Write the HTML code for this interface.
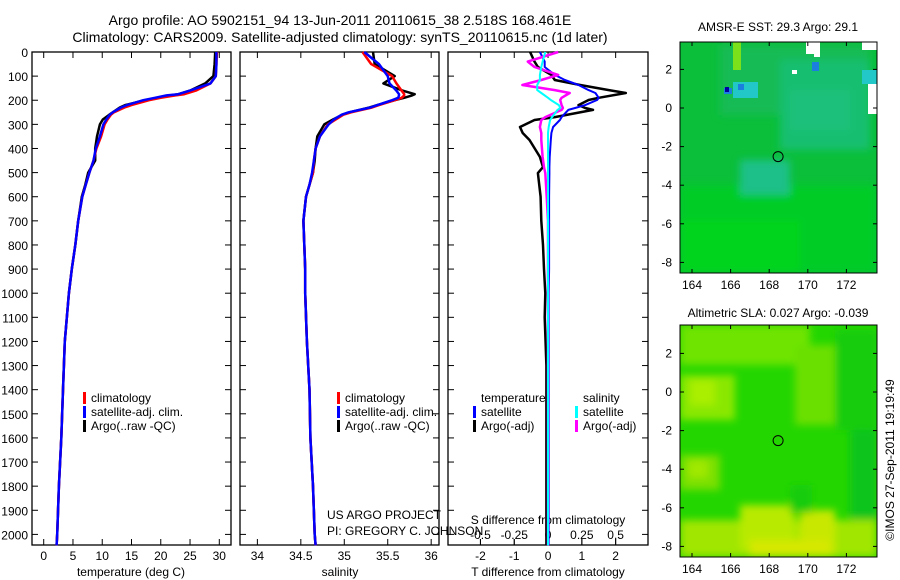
<!DOCTYPE html>
<html><head><meta charset="utf-8"><style>
body{margin:0;background:#fff}
svg{font-family:"Liberation Sans",sans-serif;display:block}
</style></head><body>
<svg id="c" width="900" height="580" xmlns="http://www.w3.org/2000/svg">
<defs><filter id="bl" x="-20%" y="-20%" width="140%" height="140%"><feGaussianBlur stdDeviation="4"/></filter></defs>
<text x="340" y="25" font-size="14" text-anchor="middle">Argo profile: AO 5902151_94 13-Jun-2011 20110615_38 2.518S 168.461E</text>
<text x="340" y="42" font-size="14" text-anchor="middle">Climatology: CARS2009. Satellite-adjusted climatology: synTS_20110615.nc (1d later)</text>
<text x="778" y="31" font-size="12" text-anchor="middle">AMSR-E SST: 29.3 Argo: 29.1</text>
<text x="778" y="317" font-size="12" text-anchor="middle">Altimetric SLA: 0.027 Argo: -0.039</text>
<text transform="translate(894,460) rotate(-90)" font-size="12" text-anchor="middle">©IMOS 27-Sep-2011 19:19:49</text>
<text x="327" y="519" font-size="12">US ARGO PROJECT</text>
<text x="327" y="535" font-size="12">PI: GREGORY C. JOHNSON</text>
<g id="g"></g>
</svg>
<script>
const depths=[0,50,100,130,160,175,180,190,200,220,230,250,260,280,300,350,400,450,500,550,600,700,800,900,1000,1200,1400,1600,1800,2000,2045];
const tArgo=[29.3,29.2,29.0,27.6,25,23,21.6,19.5,17.3,13.9,13,11.8,11.2,10.1,9.6,9.1,8.8,8.8,7.6,7.1,6.5,5.9,5.4,4.8,4.3,3.6,3.3,3.0,2.6,2.3,2.2];
const tClim=[29.6,29.5,29.4,28.5,26,24,22.5,20,18,15,13.8,12,11.5,10.9,10.4,9.8,9.0,8.5,7.8,7.2,6.6,5.9,5.4,4.8,4.3,3.6,3.3,3.0,2.6,2.3,2.2];
const tSat=[29.5,29.5,29.4,28.5,25,23,21,19,17,14.2,13.2,11.8,11.3,10.7,10.2,9.6,8.9,8.5,7.8,7.2,6.6,5.9,5.4,4.8,4.3,3.6,3.3,3.0,2.6,2.3,2.2];
const sArgo=[35.33,35.35,35.58,35.45,35.67,35.81,35.78,35.69,35.58,35.38,35.29,35.06,34.98,34.87,34.77,34.69,34.67,34.66,34.64,34.6,34.56,34.53,34.54,34.55,34.55,34.57,34.6,34.61,34.64,34.66,34.67];
const sClim=[35.21,35.31,35.55,35.6,35.66,35.69,35.69,35.66,35.58,35.4,35.32,35.08,34.99,34.9,34.81,34.72,34.67,34.65,34.64,34.6,34.56,34.53,34.54,34.55,34.55,34.57,34.6,34.61,34.64,34.66,34.67];
const sSat=[35.23,35.4,35.5,35.52,35.6,35.63,35.63,35.62,35.55,35.38,35.3,35.05,34.97,34.88,34.82,34.72,34.67,34.65,34.63,34.6,34.56,34.53,34.54,34.55,34.55,34.57,34.6,34.61,34.64,34.66,34.67];
const dDepths=[0,40,62,95,116,137,158,170,190,199,220,232,240,270,282,311,336,365,435,477,502,600,700,800,900,1000,1100,1300,1600,2045];
const dTArgo=[-0.53,-0.4,-0.3,0.1,0.2,0.95,1.8,2.3,1.5,1.2,0.9,1.1,1.33,0.2,-0.4,-0.83,-0.75,-0.55,-0.24,-0.15,-0.3,-0.22,-0.2,-0.15,-0.12,-0.08,-0.1,-0.05,-0.05,-0.05];
const dTSat=[-0.24,-0.1,-0.1,0.2,0.5,0.9,1.2,1.4,1.5,1.45,1.1,0.8,0.6,0.4,0.35,0.15,0.1,0.08,0.05,0.04,0.04,0.03,0.03,0.03,0.03,0.02,0.02,0.02,0.02,0.02];
const dSArgo=[0.075,-0.15,-0.1,0.075,-0.05,-0.19,0.05,0.16,0.1,0.09,0.1,0.11,0.1,-0.02,-0.05,-0.06,-0.05,-0.05,-0.04,-0.03,-0.02,-0.01,0,0,0,0,0,0,0,0];
const dSSat=[-0.02,-0.04,-0.05,-0.06,-0.06,-0.08,-0.08,-0.05,0.0,0.02,0.08,0.09,0.07,0.03,0.015,0.005,0,0,0,0,0,0,0,0,0,0,0,0,0,0];
const depthTicks=[0,100,200,300,400,500,600,700,800,900,1000,1100,1200,1300,1400,1500,1600,1700,1800,1900,2000];
const tTicks=[0,5,10,15,20,25,30];
const sTicks=[34,34.5,35,35.5,36];
const sTickLabels=["34","34.5","35","35.5","36"];
const dTTicks=[-2,-1,0,1,2];
const dSTicks=[-0.5,-0.25,0,0.25,0.5];
const dSTickLabels=["-0.5","-0.25","0","0.25","0.5"];
const lonTicks=[164,166,168,170,172];
const latTicks=[2,0,-2,-4,-6,-8];

const NS="http://www.w3.org/2000/svg";
const G=document.getElementById('g');
function mk(t,a,p){const e=document.createElementNS(NS,t);for(const k in a)e.setAttribute(k,a[k]);(p||G).appendChild(e);return e;}
const yTop=52,yBot=545;
const yD=d=>yTop+d*0.2412;
const xT=v=>32+(v+2)*5.853;
const xS=v=>240+(v-33.8)*86.9;
const xDT=v=>448+(v+2.96)*33.8;
const xDS=v=>xDT(v*4);

function panel(x0,x1,name){
  const r=mk('rect',{x:x0,y:yTop,width:x1-x0,height:yBot-yTop,fill:'none',stroke:'#000','stroke-width':1.3});
  
  
  depthTicks.forEach(d=>{mk('line',{x1:x0,x2:x0+6,y1:yD(d),y2:yD(d),stroke:'#000'});mk('line',{x1:x1,x2:x1-6,y1:yD(d),y2:yD(d),stroke:'#000'});});
}
panel(32,231,'temperature-panel');
panel(240,439,'salinity-panel');
panel(448,648,'difference-panel');
depthTicks.forEach(d=>{const t=mk('text',{x:28,y:yD(d)+5,'font-size':12,'text-anchor':'end'});t.textContent=d;

});

function xticks(vals,labels,fx,y,top){vals.forEach((v,i)=>{const x=fx(v);
 mk('line',{x1:x,x2:x,y1:yBot,y2:yBot-6,stroke:'#000'});
 if(top)mk('line',{x1:x,x2:x,y1:yTop,y2:yTop+6,stroke:'#000'});
 const t=mk('text',{x:x,y:y,'font-size':12,'text-anchor':'middle'});t.textContent=labels[i];
 
 });}
xticks(tTicks,tTicks.map(String),xT,560,true);
xticks(sTicks,sTickLabels,xS,560,true);
xticks(dTTicks,dTTicks.map(String),xDT,560,true);
xticks(dSTicks,dSTickLabels,xDS,539,false);

function lbl(x,y,s,name,anchor){const t=mk('text',{x:x,y:y,'font-size':12,'text-anchor':anchor||'middle'});t.textContent=s;
 
 }
lbl(131,576,'temperature (deg C)','temperature-axis-title');
lbl(340,576,'salinity','salinity-axis-title');
lbl(548,576,'T difference from climatology','t-diff-axis-title');
lbl(548,524,'S difference from climatology','s-diff-axis-title');

function line(xs,ds,fx,col,w,name){
  const pts=xs.map((v,i)=>fx(v).toFixed(1)+','+yD(ds[i]).toFixed(1)).join(' ');
  const p=mk('polyline',{points:pts,fill:'none',stroke:col,'stroke-width':w,'stroke-linejoin':'round'});
  
  
}
line(tArgo,depths,xT,'#000',2.5,'temp-argo-line');
line(tClim,depths,xT,'#f00',2.5,'temp-clim-line');
line(tSat,depths,xT,'#00f',2.5,'temp-sat-line');
line(sArgo,depths,xS,'#000',2.5,'sal-argo-line');
line(sClim,depths,xS,'#f00',2.5,'sal-clim-line');
line(sSat,depths,xS,'#00f',2.5,'sal-sat-line');
line(dTArgo,dDepths,xDT,'#000',2.5,'tdiff-argo-line');
line(dTSat,dDepths,xDT,'#00f',2,'tdiff-sat-line');
line(dSArgo,dDepths,xDS,'#f0f',2.5,'sdiff-argo-line');
line(dSSat,dDepths,xDS,'#0ff',2,'sdiff-sat-line');

function leg(x,y,col,s,name){mk('rect',{x:x,y:y-10,width:3,height:12,fill:col});
 const t=mk('text',{x:x+8,y:y,'font-size':12});t.textContent=s;
 
 }
[[83,'#f00','climatology'],[83,'#00f','satellite-adj. clim.'],[83,'#000','Argo(..raw -QC)']].forEach((a,i)=>leg(a[0],402+i*14,a[1],a[2],'temp-legend-entry'));
[[337,'#f00','climatology'],[337,'#00f','satellite-adj. clim.'],[337,'#000','Argo(..raw -QC)']].forEach((a,i)=>leg(a[0],402+i*14,a[1],a[2],'sal-legend-entry'));
lbl(481,402,'temperature','diff-legend-temperature','start');
lbl(583,402,'salinity','diff-legend-salinity','start');
leg(473,416,'#00f','satellite','diff-legend-t-sat');
leg(473,430,'#000','Argo(-adj)','diff-legend-t-argo');
leg(575,416,'#0ff','satellite','diff-legend-s-sat');
leg(575,430,'#f0f','Argo(-adj)','diff-legend-s-argo');

// maps
const xLon=v=>692+(v-164)*19.3;
function map(y0,y1,lat0y,base,blobs,sharp,name){
  const clipId='cl'+y0;
  const cp=mk('clipPath',{id:clipId});mk('rect',{x:680,y:y0,width:197,height:y1-y0},cp);
  const g=mk('g',{'clip-path':'url(#'+clipId+')'});
  
  
  mk('rect',{x:680,y:y0,width:197,height:y1-y0,fill:base},g);
  const gb=mk('g',{filter:'url(#bl)'},g);
  blobs.forEach(b=>mk('rect',{x:b[0],y:b[1],width:b[2],height:b[3],fill:b[4]},gb));
  sharp.forEach(b=>mk('rect',{x:b[0],y:b[1],width:b[2],height:b[3],fill:b[4]},g));
  mk('rect',{x:680,y:y0,width:197,height:y1-y0,fill:'none',stroke:'#000'});
  const yLat=v=>lat0y-v*19.3;
  mk('circle',{cx:xLon(168.461),cy:yLat(-2.518),r:5,fill:'none',stroke:'#000'});
  lonTicks.forEach(v=>{mk('line',{x1:xLon(v),x2:xLon(v),y1:y0,y2:y0+4,stroke:'#000'});mk('line',{x1:xLon(v),x2:xLon(v),y1:y1,y2:y1-4,stroke:'#000'});
   const t=mk('text',{x:xLon(v),y:y1+16,'font-size':12,'text-anchor':'middle'});t.textContent=v;
   
   });
  latTicks.forEach(v=>{mk('line',{x1:680,x2:684,y1:yLat(v),y2:yLat(v),stroke:'#000'});mk('line',{x1:877,x2:873,y1:yLat(v),y2:yLat(v),stroke:'#000'});
   const t=mk('text',{x:672,y:yLat(v)+4,'font-size':12,'text-anchor':'end'});t.textContent=v;
   
   });
}
map(42,273,108,'#0bbf3a',[
 [680,185,197,88,'#04cc26'],[680,220,120,53,'#06d41c'],
 [720,45,150,70,'#12bb55'],[780,60,90,90,'#18bf70'],
 [740,160,50,35,'#1fc088'],[790,90,60,40,'#1cc07a']
],[
 [733,82,25,16,'#22c8c8'],[738,84,6,6,'#1b7fe0'],[724,88,8,6,'#1b7fe0'],[725,87,4,5,'#0000a0'],
 [733,42,8,28,'#7ce01a'],[806,42,14,12,'#fff'],[814,42,6,15,'#fff'],[862,42,15,8,'#fff'],[868,84,9,30,'#fff'],
 [812,62,7,9,'#1b7fe0'],[792,70,5,4,'#fff'],[862,70,15,14,'#22c8c8']
],'sst-map');
map(325,557,392,'#24d600',[
 [680,325,130,40,'#6ee400'],[680,375,55,45,'#8ae800'],[690,380,25,25,'#aaee00'],
 [680,455,40,35,'#7ae000'],[688,460,20,18,'#a0e800'],[795,345,40,80,'#6ae000'],
 [835,330,42,100,'#12cc10'],[850,430,27,127,'#0cc41c'],
 [680,520,197,37,'#a0e600'],[740,505,55,45,'#b8ea00'],[800,510,35,47,'#c8e800'],[750,540,80,17,'#d6e800'],[790,485,22,28,'#14cc10']
],[],'sla-map');
</script>
</body></html>
